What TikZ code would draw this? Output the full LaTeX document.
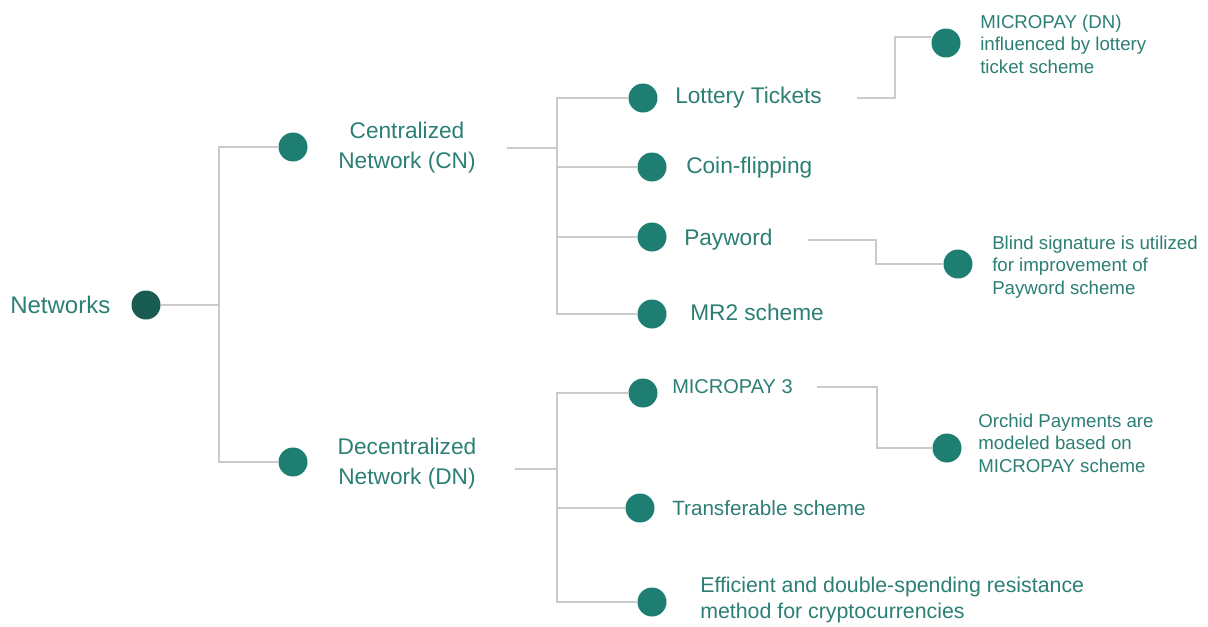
\documentclass[tikz,border=0pt]{standalone}
\usepackage{fontspec}
\setmainfont{Liberation Sans}
\definecolor{dotc}{HTML}{1E7E71}
\definecolor{rootc}{HTML}{175B51}
\definecolor{txtc}{HTML}{2C7F74}
\definecolor{linec}{HTML}{CBCBCB}
\newcommand\fsroot{\fontsize{18}{21}\selectfont}
\newcommand\fsmain{\fontsize{17}{22.5}\selectfont}
\newcommand\fsnote{\fontsize{14}{17}\selectfont}
\newcommand\fsleaf{\fontsize{15}{19}\selectfont}
\tikzset{
  dot/.style={circle, fill=dotc, minimum size=21.75pt, inner sep=0pt},
  link/.style={draw=linec, line width=1.1pt},
  lbl/.style={text=txtc, inner sep=0pt, anchor=west, align=left},
}
\begin{document}
\begin{tikzpicture}[x=0.75pt, y=-0.75pt]
\fill[white] (0,0) rectangle (1208,626);
\useasboundingbox (0,0) rectangle (1208,626);

% root
\node[lbl, font=\fsroot] (nett) at (10,305) {Networks};
\node[dot, fill=rootc] (root) at (146,305) {};

% first level
\node[dot] (cnd) at (293,147) {};
\node[dot] (dnd) at (293,462) {};
\node[text=txtc, inner sep=0pt, align=center, font=\fsmain] (cnt) at (407,148) {Centralized\\Network (CN)};
\node[text=txtc, inner sep=0pt, align=center, font=\fsmain] (dnt) at (407,464) {Decentralized\\Network (DN)};

% centralized branch
\node[dot] (ltd) at (643,98) {};
\node[dot] (cfd) at (652,167) {};
\node[dot] (pwd) at (652,237) {};
\node[dot] (mrd) at (652,314) {};
\node[lbl, font=\fsmain] (ltt) at (675,98) {Lottery Tickets};
\node[lbl, font=\fsmain] (cft) at (686,168) {Coin-flipping};
\node[lbl, font=\fsmain] (pwt) at (684,240) {Payword};
\node[lbl, font=\fsmain] (mrt) at (690,312) {MR2 scheme};

% decentralized branch
\node[dot] (m3d) at (643,393) {};
\node[dot] (trd) at (640,508) {};
\node[dot] (efd) at (652,602) {};
\node[lbl, font=\fsleaf] (m3t) at (672,387) {MICROPAY 3};
\node[lbl, font=\fontsize{15.5}{19}\selectfont] (trt) at (672,508) {Transferable scheme};
\node[lbl, font=\fontsize{16}{19}\selectfont] (eft) at (700,600) {Efficient and double-spending resistance\\method for cryptocurrencies};

% notes
\node[dot] (mdd) at (946,43) {};
\node[dot] (bsd) at (958,264) {};
\node[dot] (ord) at (947,448) {};
\node[lbl, font=\fsnote] (mdt) at (980,44) {MICROPAY (DN)\\influenced by lottery\\ticket scheme};
\node[lbl, font=\fsnote] (bst) at (992,267) {Blind signature is utilized\\for improvement of\\Payword scheme};
\node[lbl, font=\fsnote] (ort) at (978,443) {Orchid Payments are\\modeled based on\\MICROPAY scheme};

% junction points
\coordinate (j0) at (219,305);
\coordinate (cnout) at (507,148);
\coordinate (j1) at (557,148);
\coordinate (dnout) at (515,469);
\coordinate (j2) at (557,469);
\coordinate (ltout) at (857,98);
\coordinate (k1) at (895,37);
\coordinate (pwout) at (808,240);
\coordinate (k2) at (876,240);
\coordinate (m3out) at (817,387);
\coordinate (k3) at (877,387);

% connectors
\draw[link] (root) -- (j0);
\draw[link] (j0) |- (cnd);
\draw[link] (j0) |- (dnd);

\draw[link] (cnout) -- (j1);
\draw[link] (j1) |- (ltd);
\draw[link] (j1) |- (cfd);
\draw[link] (j1) |- (pwd);
\draw[link] (j1) |- (mrd);

\draw[link] (dnout) -- (j2);
\draw[link] (j2) |- (m3d);
\draw[link] (j2) |- (trd);
\draw[link] (j2) |- (efd);

\draw[link] (ltout) -| (k1) -- (k1 -| mdd.west);
\draw[link] (pwout) -- (k2) |- (bsd);
\draw[link] (m3out) -- (k3) |- (ord);
\end{tikzpicture}
\end{document}
